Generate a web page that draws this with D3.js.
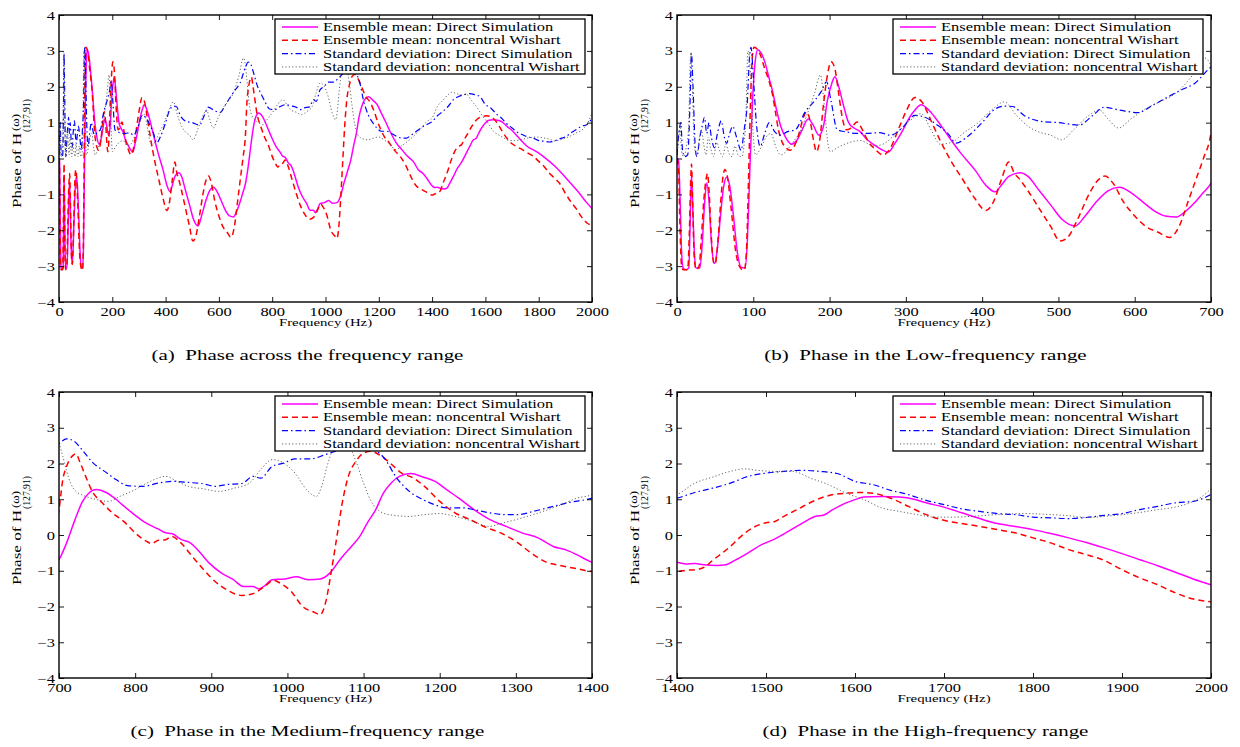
<!DOCTYPE html>
<html><head><meta charset="utf-8">
<script src="https://cdn.jsdelivr.net/npm/d3@7"></script>
<style>
html,body{margin:0;padding:0;background:#fff;}
svg{display:block;font-family:"Liberation Serif","Times New Roman",serif;}
</style></head><body>
<svg id="chart" width="1240" height="747"></svg>
<script>
// ---------------- data (frequency in Hz, phase in rad) ----------------
const freqMeanDirect = [0,2,4,6,8,12,15.5,17,19,21,23,25,30,33,36,39,42,45,49,53,57,61,65,69,74,79,84,89,92,94,96,99,102,106,110,115,120,125,130,136,142,150,157,164,172,178,186,192,197,203,207,212,218,225,232,240,248,257,268,277,285,295,305,312,320,330,338,345,358,372,391,405,417,425,435,450,460,475,490,505,522,535,550,565,580,595,610,625,640,655,665,680,690,700,710,721,731,739,749,762,773,783,799,814,830,840,848,861,871,882,897,913,929,942,955,962,970,980,996,1012,1027,1043,1056,1069,1084,1095,1105,1116,1126,1136,1147,1162,1178,1194,1209,1225,1245,1266,1287,1308,1329,1349,1365,1380,1400,1410,1420,1430,1445,1455,1465,1480,1495,1510,1525,1540,1555,1565,1575,1590,1600,1610,1630,1650,1665,1680,1700,1720,1740,1760,1780,1800,1820,1840,1860,1880,1900,1920,1940,1960,1980,2000];
const phaseMeanDirect = [0,-0.05,-1.1,-2.6,-3.05,-3.1,-3.05,-2.0,-0.45,-1.6,-2.7,-3.05,-3.05,-2.4,-1.3,-0.68,-1.2,-2.3,-2.93,-2.5,-1.6,-0.8,-0.52,-0.75,-1.6,-2.6,-3.03,-3.05,-2.4,-1.3,0,1.6,2.6,3.03,2.95,2.7,2.3,1.9,1.4,0.9,0.6,0.4,0.5,0.8,1.1,0.95,0.65,0.9,1.6,2.1,2.28,2.0,1.5,1.0,0.85,0.75,0.55,0.4,0.25,0.18,0.4,0.75,1.15,1.35,1.5,1.35,1.15,0.95,0.55,0.15,-0.33,-0.75,-0.93,-0.75,-0.5,-0.4,-0.5,-0.9,-1.3,-1.7,-1.88,-1.6,-1.2,-0.9,-0.8,-0.95,-1.2,-1.45,-1.6,-1.63,-1.5,-1.2,-0.95,-0.69,-0.22,0.43,0.94,1.17,1.27,1.19,1.03,0.85,0.57,0.34,0.17,0.06,0.04,-0.13,-0.2,-0.41,-0.78,-1.06,-1.25,-1.44,-1.44,-1.51,-1.42,-1.25,-1.23,-1.17,-1.25,-1.23,-1.06,-0.69,-0.32,-0.04,0.34,0.71,1.17,1.45,1.64,1.72,1.62,1.5,1.27,1.03,0.71,0.43,0.24,0.06,-0.08,-0.32,-0.41,-0.55,-0.76,-0.81,-0.8,-0.83,-0.85,-0.83,-0.71,-0.5,-0.27,-0.11,0.1,0.32,0.52,0.56,0.71,0.9,0.99,1.06,1.08,1.06,1.01,0.9,0.78,0.62,0.46,0.32,0.24,0.15,0.04,-0.08,-0.21,-0.36,-0.52,-0.69,-0.86,-1.04,-1.23,-1.39];

const freqMeanWishart = [0,2,4,6,8,14,16,18,19,20.5,22.5,25,29,32,35,38,40,42,45,48,50,54,57,60,63,66,71,77,83,88,91,93,95,97,99,101,105,110,115,120,125,129,133,138,143,148,155,160,165,170,175,179,183,187,192,197,202,207,212,217,222,228,236,243,250,260,270,280,290,300,312,322,332,345,360,375,390,405,415,425,435,442,450,460,475,490,502,512,525,540,550,561,572,585,600,615,630,646,658,670,680,690,700,705,710,718,722,728,735,745,755,770,785,800,815,822,830,840,848,860,875,890,905,920,940,955,970,982,990,1005,1020,1035,1043,1050,1058,1065,1072,1080,1090,1100,1110,1120,1135,1150,1165,1180,1200,1220,1240,1260,1280,1300,1320,1340,1360,1380,1400,1410,1425,1432,1440,1450,1460,1470,1485,1500,1510,1520,1535,1550,1570,1590,1605,1620,1640,1660,1680,1700,1720,1740,1760,1780,1800,1820,1840,1860,1880,1900,1920,1940,1960,1980,2000];
const phaseMeanWishart = [0,-0.3,-2.0,-3.0,-3.1,-3.1,-2.2,-0.6,-0.15,-1.2,-2.7,-3.1,-3.0,-2.2,-1.2,-0.6,-0.42,-0.9,-2.2,-2.9,-2.95,-2.2,-1.3,-0.55,-0.31,-0.5,-1.4,-2.6,-3.05,-3.12,-2.6,-1.2,0.5,2.0,2.9,3.1,3.05,2.85,2.5,2.2,1.8,1.3,0.8,0.45,0.3,0.23,0.4,0.7,1.1,1.3,1.0,0.5,0.19,0.5,1.5,2.3,2.7,2.5,1.8,1.1,0.8,0.85,1.02,0.8,0.5,0.25,0.1,0.3,0.8,1.3,1.7,1.55,1.1,0.5,-0.1,-0.6,-1.1,-1.45,-1.2,-0.6,-0.1,-0.4,-0.6,-0.9,-1.4,-1.9,-2.3,-2.2,-1.7,-1.0,-0.65,-0.49,-0.7,-1.2,-1.6,-1.9,-2.05,-2.2,-1.9,-1.2,-0.6,0.0,0.71,1.55,1.92,2.22,2.27,2.01,1.64,1.17,0.94,0.62,0.38,0.06,-0.18,-0.24,-0.15,-0.13,-0.04,-0.22,-0.6,-0.97,-1.3,-1.53,-1.69,-1.64,-1.44,-1.27,-1.34,-1.58,-2.0,-2.16,-2.23,-1.9,-0.97,-0.04,0.9,1.64,2.06,2.29,2.34,2.25,2.01,1.73,1.6,1.36,0.94,0.62,0.43,0.22,0.06,-0.18,-0.5,-0.76,-0.86,-0.94,-1.02,-0.99,-0.95,-0.88,-0.71,-0.52,-0.32,-0.08,0.2,0.34,0.38,0.52,0.71,0.91,1.1,1.17,1.19,1.17,1.03,0.8,0.57,0.41,0.32,0.24,0.15,0.06,-0.08,-0.22,-0.41,-0.55,-0.71,-0.97,-1.2,-1.39,-1.62,-1.79,-1.87];

const freqStdDirect = [0,3,5,7,10,14,17,19,21,24,26,30,33,36,39,42,45,49,53,58,62,65,69,73,78,84,88,92,95,97,100,104,109,115,121,128,135,145,155,168,180,190,196,202,210,220,235,250,265,280,295,312,325,340,355,366,380,400,415,429,440,455,479,500,527,545,560,580,604,625,642,660,679,700,710,720,730,745,760,775,790,810,830,850,870,890,905,920,940,955,965,980,995,1010,1030,1050,1070,1090,1110,1120,1129,1142,1162,1178,1193,1209,1230,1245,1266,1287,1303,1323,1349,1370,1400,1420,1440,1460,1480,1500,1520,1540,1560,1580,1600,1620,1640,1660,1680,1700,1720,1740,1760,1780,1800,1820,1840,1860,1880,1900,1920,1940,1960,1980,2000];
const phaseStdDirect = [0.1,0.8,1.0,0.3,0.05,0.1,1.5,2.93,2.0,0.3,0.05,0.6,0.9,1.15,0.7,1.0,0.6,0.3,0.7,1.05,0.6,0.42,0.7,0.9,0.6,0.23,0.8,1.5,2.8,3.1,2.3,1.0,0.34,0.7,1.0,0.75,0.65,0.75,0.8,1.3,1.6,1.9,2.14,1.6,0.8,0.75,0.7,0.7,0.72,0.65,0.85,1.2,1.15,0.95,0.7,0.43,0.6,1.0,1.35,1.46,1.45,1.2,1.03,1.0,0.93,1.2,1.43,1.35,1.28,1.5,1.7,1.9,2.1,2.55,2.69,2.62,2.39,2.01,1.78,1.55,1.38,1.36,1.45,1.5,1.47,1.43,1.36,1.41,1.44,1.64,1.59,1.92,2.01,2.13,2.13,2.25,2.39,2.45,2.4,2.3,2.1,1.64,1.19,0.99,0.85,0.76,0.76,0.71,0.62,0.57,0.57,0.66,0.8,0.91,1.03,1.19,1.31,1.45,1.64,1.73,1.78,1.81,1.78,1.72,1.5,1.41,1.25,1.13,0.97,0.85,0.73,0.66,0.6,0.57,0.5,0.48,0.46,0.49,0.55,0.6,0.71,0.8,0.9,0.94,1.13];

const freqStdWishart = [0,2,4,6,9,12,15,18,20,23,26,29,32,35,38,41,44,48,52,56,60,64,68,72,76,80,85,90,93,96,99,103,110,117,123,130,136,143,150,160,170,180,188,193,198,201,210,220,240,258,270,285,305,320,333,345,360,375,395,415,429,445,460,473,490,504,520,540,554,565,579,595,615,635,654,675,692,700,705,712,720,735,750,765,780,800,820,840,855,870,890,910,930,950,965,980,995,1010,1025,1038,1045,1052,1060,1070,1080,1090,1100,1110,1125,1140,1160,1180,1200,1220,1240,1265,1280,1300,1330,1360,1380,1400,1420,1440,1460,1475,1490,1510,1530,1550,1570,1590,1610,1630,1650,1670,1690,1710,1730,1760,1790,1820,1840,1860,1880,1900,1920,1940,1960,1980,1990,2000];
const phaseStdWishart = [0,0.5,0.9,0.2,0.05,0.3,0.8,2.95,2.0,0.3,0.05,0.5,0.8,0.4,0.1,0.6,0.3,0.05,0.45,0.2,0.05,0.4,0.15,0.05,0.35,0.1,0.05,1.0,3.0,2.5,1.0,0.1,0.3,0.6,0.7,0.3,0.1,0.2,0.4,0.7,1.2,1.8,2.33,1.5,0.4,0.19,0.3,0.4,0.5,0.35,0.4,0.65,1.05,1.25,0.8,0.4,0.45,0.7,1.0,1.4,1.58,1.2,0.9,0.75,0.65,0.52,0.8,1.2,1.35,1.1,0.85,1.1,1.4,1.6,1.82,2.3,2.8,2.57,2.2,1.64,1.27,1.08,0.99,0.94,1.08,1.27,1.5,1.64,1.5,1.36,1.29,1.22,1.31,1.45,1.83,2.11,2.01,1.73,1.27,1.08,1.36,1.92,2.39,2.55,2.5,2.06,1.45,0.94,0.62,0.55,0.52,0.57,0.6,0.52,0.41,0.24,0.32,0.43,0.62,0.85,1.03,1.13,1.45,1.62,1.78,1.85,1.81,1.78,1.78,1.59,1.41,1.17,0.99,0.76,0.66,0.57,0.5,0.5,0.52,0.57,0.6,0.57,0.54,0.49,0.52,0.57,0.63,0.71,0.78,0.94,1.08,1.29];

const legendLabels = ["Ensemble mean: Direct Simulation","Ensemble mean: noncentral Wishart","Standard deviation: Direct Simulation","Standard deviation: noncentral Wishart"];
const yTicks = [-4,-3,-2,-1,0,1,2,3,4];
const xTicksA = [0,200,400,600,800,1000,1200,1400,1600,1800,2000];
const xTicksB = [0,100,200,300,400,500,600,700];
const xTicksC = [700,800,900,1000,1100,1200,1300,1400];
const xTicksD = [1400,1500,1600,1700,1800,1900,2000];
const captionLabels = ["(a)","(b)","(c)","(d)"];
const captionTexts = ["Phase across the frequency range","Phase in the Low-frequency range","Phase in the Medium-frequency range","Phase in the High-frequency range"];
const xAxisTitle = "Frequency (Hz)";

// ---------------- drawing ----------------
const SX = 1.37; // glyphs in the reference are horizontally stretched
const svg = d3.select('#chart');
const defs = svg.append('defs');

const series = [
  {f: freqMeanDirect,  v: phaseMeanDirect,  color:'#ff00ff', w:1.5, dash:null},
  {f: freqMeanWishart, v: phaseMeanWishart, color:'#ff0000', w:1.5, dash:'6,4'},
  {f: freqStdDirect,   v: phaseStdDirect,   color:'#0000ff', w:1.2, dash:'6,3,1.5,3'},
  {f: freqStdWishart,  v: phaseStdWishart,  color:'#555555', w:0.9, dash:'1.2,2.2'}
];

const panels = [
  {key:'a', left:59,  top:15,  right:592,  bottom:302, domain:[0,2000],    ticks:xTicksA},
  {key:'b', left:677, top:15,  right:1211, bottom:302, domain:[0,700],     ticks:xTicksB},
  {key:'c', left:59,  top:392, right:592,  bottom:678, domain:[700,1400],  ticks:xTicksC},
  {key:'d', left:677, top:392, right:1211, bottom:678, domain:[1400,2000], ticks:xTicksD}
];

function stretchedText(parent, x, y, str, size, anchor) {
  return parent.append('text')
    .attr('transform', `translate(${x},${y}) scale(${SX},1)`)
    .attr('font-size', size)
    .attr('text-anchor', anchor || 'start')
    .style('white-space','pre')
    .attr('fill','#000')
    .text(str);
}

panels.forEach((p, pi) => {
  const x = d3.scaleLinear().domain(p.domain).range([p.left, p.right]);
  const y = d3.scaleLinear().domain([d3.min(yTicks), d3.max(yTicks)]).range([p.bottom, p.top]);
  const clipId = 'clip-' + p.key;
  defs.append('clipPath').attr('id', clipId).append('rect')
    .attr('x', p.left).attr('y', p.top).attr('width', p.right - p.left).attr('height', p.bottom - p.top);

  const g = svg.append('g');
  const plot = g.append('g').attr('clip-path', `url(#${clipId})`);
  const line = d3.line().x(d => x(d[0])).y(d => y(d[1])).curve(d3.curveMonotoneX);

  series.forEach(s => {
    const pts = [];
    s.f.forEach((f, i) => {
      const prevIn = i > 0 && s.f[i-1] >= p.domain[0] && s.f[i-1] <= p.domain[1];
      const nextIn = i < s.f.length-1 && s.f[i+1] >= p.domain[0] && s.f[i+1] <= p.domain[1];
      const selfIn = f >= p.domain[0] && f <= p.domain[1];
      if (selfIn || prevIn || nextIn) pts.push([f, s.v[i]]);
    });
    plot.append('path').datum(pts)
      .attr('d', line)
      .attr('fill','none')
      .attr('stroke', s.color)
      .attr('stroke-width', s.w)
      .attr('stroke-dasharray', s.dash)
      .attr('stroke-linejoin','round');
  });

  // axes with inward ticks on all four sides
  const gx = g.append('g').attr('transform', `translate(0,${p.bottom})`)
    .call(d3.axisBottom(x).tickValues(p.ticks).tickSizeInner(-5).tickSizeOuter(0).tickFormat(d3.format('d')));
  gx.selectAll('text').attr('y', null).attr('dy', null)
    .attr('transform', `translate(0,13.5) scale(${SX},1)`).attr('font-size', 12)
    .attr('font-family','"Liberation Serif",serif').attr('fill','#000');
  const gy = g.append('g').attr('transform', `translate(${p.left},0)`)
    .call(d3.axisLeft(y).tickValues(yTicks).tickSizeInner(-5).tickSizeOuter(0).tickFormat(d3.format('d')));
  gy.selectAll('text').attr('x', null).attr('dy', null)
    .attr('transform', `translate(-4,4) scale(${SX},1)`).attr('font-size', 12)
    .attr('font-family','"Liberation Serif",serif').attr('fill','#000');
  g.append('g').attr('transform', `translate(0,${p.top})`)
    .call(d3.axisTop(x).tickValues(p.ticks).tickSizeInner(-5).tickSizeOuter(0).tickFormat(''));
  g.append('g').attr('transform', `translate(${p.right},0)`)
    .call(d3.axisRight(y).tickValues(yTicks).tickSizeInner(-5).tickSizeOuter(0).tickFormat(''));
  g.selectAll('.domain').remove();
  g.selectAll('.tick line').attr('stroke','#000').attr('stroke-width',0.9);

  g.append('rect').attr('x', p.left).attr('y', p.top)
    .attr('width', p.right - p.left).attr('height', p.bottom - p.top)
    .attr('fill','none').attr('stroke','#000').attr('stroke-width',1.4);

  // x axis title
  stretchedText(g, (p.left + p.right)/2, p.bottom + 23.5, xAxisTitle, 10.8, 'middle');

  // y axis title (rotated)
  const lab = g.append('g').attr('transform', `translate(${p.left - 38},${p.top + 193}) rotate(-90)`);
  lab.append('text').attr('x',0).attr('y',0).attr('font-size',13)
    .attr('textLength',75).attr('lengthAdjust','spacingAndGlyphs').text('Phase of H');
  lab.append('text').attr('x',76).attr('y',9).attr('font-size',9.5)
    .attr('textLength',33).attr('lengthAdjust','spacingAndGlyphs').text('(127,91)');
  lab.append('text').attr('x',77).attr('y',-2).attr('font-size',11)
    .attr('textLength',17).attr('lengthAdjust','spacingAndGlyphs').text('(\u03c9)');

  // legend
  const lx = p.left + 216, ly = p.top + 4;
  const lg = g.append('g');
  lg.append('rect').attr('x', lx).attr('y', ly).attr('width', 310).attr('height', 55)
    .attr('fill','#fff').attr('stroke','#000').attr('stroke-width',1.3);
  legendLabels.forEach((lbl, i) => {
    const ry = ly + 8 + i * 13.3;
    const s = series[i];
    lg.append('line').attr('x1', lx + 7).attr('x2', lx + 43).attr('y1', ry).attr('y2', ry)
      .attr('stroke', s.color).attr('stroke-width', s.w).attr('stroke-dasharray', s.dash);
    stretchedText(lg, lx + 48, ry + 4, lbl, 12, 'start');
  });

  // caption
  stretchedText(g, p.left + 248.5, p.bottom + 58, captionLabels[pi] + '  ' + captionTexts[pi], 15.3, 'middle');
});
</script>
</body></html>
